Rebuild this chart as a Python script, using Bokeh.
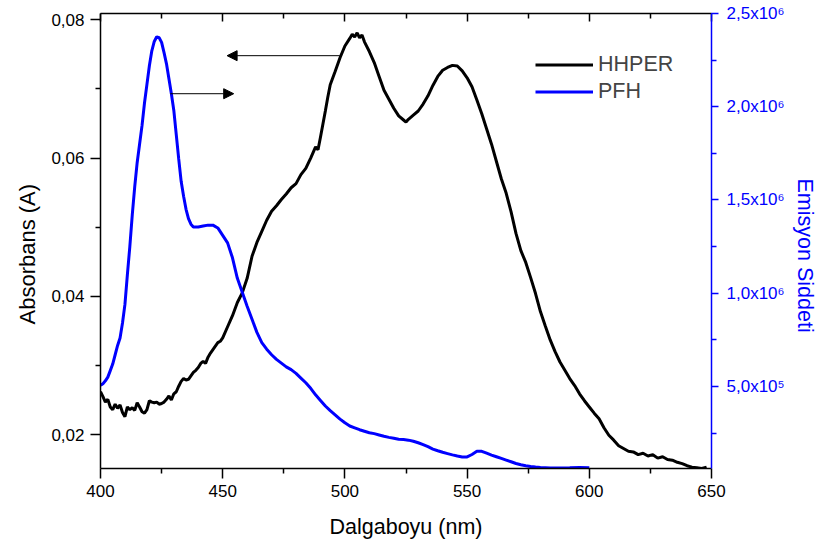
from bokeh.plotting import figure
from bokeh.models import (LinearAxis, Range1d, FixedTicker, CustomJSTickFormatter,
                          Legend, LegendItem, Arrow, NormalHead, ColumnDataSource, Title)
from bokeh.embed import file_html
from bokeh.resources import INLINE

# ---------------- data ----------------
hhper_nm = [400, 401, 402, 403, 404, 405, 406, 407, 408, 409, 410, 411, 412, 413, 414, 415,
            416, 417, 418, 419, 420, 421, 422, 423, 424, 425, 426, 427, 428, 429, 430, 431,
            432, 433, 434, 435, 436, 437, 438, 439, 440, 441, 442, 443, 444, 445, 446, 447,
            448, 449, 450, 452, 454, 456, 458, 460, 462, 464, 466, 468, 470, 472, 474, 476,
            478, 480, 482, 484, 486, 488, 489, 490, 492, 493, 494, 496, 498, 500, 502, 503,
            504, 505, 506, 507, 508, 510, 512, 514, 516, 518, 520, 522, 524, 525, 526, 528,
            530, 532, 534, 536, 538, 540, 542, 544, 546, 548, 550, 552, 554, 556, 558, 560,
            562, 564, 566, 568, 570, 572, 574, 576, 578, 580, 582, 584, 586, 588, 590, 592,
            594, 596, 598, 600, 602, 604, 606, 608, 610, 612, 614, 616, 618, 620, 622, 624,
            626, 628, 630, 632, 634, 636, 638, 640, 642, 644, 646, 648]
hhper_abs = [0.0262, 0.0255, 0.0247, 0.0251, 0.0240, 0.0236, 0.0244, 0.0238, 0.0243, 0.0232,
             0.0226, 0.0240, 0.0236, 0.0239, 0.0235, 0.0246, 0.0240, 0.0233, 0.0231, 0.0236,
             0.0249, 0.0247, 0.0246, 0.0247, 0.0244, 0.0245, 0.0247, 0.0251, 0.0256, 0.0250,
             0.0259, 0.0262, 0.0270, 0.0277, 0.0281, 0.0279, 0.0280, 0.0285, 0.0290, 0.0293,
             0.0297, 0.0303, 0.0306, 0.0303, 0.0312, 0.0318, 0.0323, 0.0328, 0.0333, 0.0335,
             0.0340, 0.0356, 0.0372, 0.0391, 0.0405, 0.0426, 0.0458, 0.0478, 0.0494, 0.0510,
             0.0523, 0.0531, 0.0540, 0.0548, 0.0557, 0.0563, 0.0576, 0.0585, 0.0600, 0.0616,
             0.0612, 0.0630, 0.0668, 0.0688, 0.0706, 0.0725, 0.0745, 0.0762, 0.0773, 0.0779,
             0.0775, 0.0781, 0.0774, 0.0778, 0.0768, 0.0754, 0.0738, 0.0718, 0.0698, 0.0685,
             0.0672, 0.0661, 0.0655, 0.0652, 0.0656, 0.0662, 0.0668, 0.0678, 0.0690, 0.0705,
             0.0718, 0.0727, 0.0731, 0.0734, 0.0733, 0.0726, 0.0716, 0.0703, 0.0684, 0.0664,
             0.0642, 0.0620, 0.0595, 0.0570, 0.0549, 0.0522, 0.0491, 0.0466, 0.0449, 0.0427,
             0.0404, 0.0378, 0.0357, 0.0337, 0.0320, 0.0305, 0.0293, 0.0281, 0.0271, 0.0259,
             0.0249, 0.0240, 0.0231, 0.0223, 0.0210, 0.0199, 0.0192, 0.0184, 0.0180, 0.0176,
             0.0175, 0.0171, 0.0173, 0.0169, 0.0171, 0.0166, 0.0168, 0.0164, 0.0163, 0.0160,
             0.0158, 0.0155, 0.0153, 0.0152, 0.0151, 0.0153]

pfh_nm = [400, 401, 402, 403, 404, 405, 406, 407, 408, 409, 410, 411, 412, 413, 414, 415,
          416, 417, 418, 419, 420, 421, 422, 423, 424, 425, 426, 427, 428, 429, 430, 431,
          432, 433, 434, 435, 436, 437, 438, 439, 440, 442, 444, 446, 448, 450, 452, 454,
          456, 458, 460, 462, 464, 466, 468, 470, 472, 474, 476, 478, 480, 482, 484, 486,
          488, 490, 492, 494, 496, 498, 500, 502, 504, 506, 508, 510, 512, 514, 516, 518,
          520, 522, 524, 526, 528, 530, 532, 534, 536, 538, 540, 542, 544, 546, 548, 550,
          552, 554, 556, 558, 560, 562, 564, 566, 568, 570, 572, 574, 576, 578, 580, 584,
          588, 592, 596, 600]
pfh_em = [5.06e5, 5.15e5, 5.30e5, 5.50e5, 5.85e5, 6.20e5, 6.70e5, 7.20e5, 7.60e5, 8.40e5,
          9.40e5, 1.10e6, 1.25e6, 1.42e6, 1.57e6, 1.70e6, 1.80e6, 1.90e6, 2.02e6, 2.12e6,
          2.22e6, 2.30e6, 2.35e6, 2.375e6, 2.37e6, 2.345e6, 2.29e6, 2.23e6, 2.15e6, 2.07e6,
          1.98e6, 1.85e6, 1.72e6, 1.60e6, 1.52e6, 1.45e6, 1.40e6, 1.37e6, 1.355e6, 1.355e6,
          1.355e6, 1.36e6, 1.365e6, 1.365e6, 1.35e6, 1.31e6, 1.27e6, 1.19e6, 1.08e6, 1.005e6,
          9.30e5, 8.60e5, 7.90e5, 7.35e5, 7.00e5, 6.70e5, 6.45e5, 6.25e5, 6.05e5, 5.90e5,
          5.70e5, 5.45e5, 5.20e5, 4.90e5, 4.55e5, 4.25e5, 3.95e5, 3.70e5, 3.48e5, 3.25e5,
          3.05e5, 2.88e5, 2.78e5, 2.68e5, 2.60e5, 2.52e5, 2.47e5, 2.40e5, 2.33e5, 2.27e5,
          2.22e5, 2.17e5, 2.15e5, 2.12e5, 2.06e5, 1.98e5, 1.88e5, 1.77e5, 1.64e5, 1.55e5,
          1.47e5, 1.40e5, 1.33e5, 1.27e5, 1.22e5, 1.22e5, 1.35e5, 1.52e5, 1.52e5, 1.42e5,
          1.32e5, 1.23e5, 1.14e5, 1.05e5, 9.6e4, 8.7e4, 8.0e4, 7.5e4, 7.1e4, 6.8e4,
          6.6e4, 6.3e4, 6.3e4, 6.4e4, 6.6e4, 6.4e4]

x_ticks = [400, 450, 500, 550, 600, 650]
x_minor = [425, 475, 525, 575, 625]
left_ticks = [0.02, 0.04, 0.06, 0.08]
left_minor = [0.03, 0.05, 0.07]
right_ticks = [5e5, 1e6, 1.5e6, 2e6, 2.5e6]
right_minor = [2.5e5, 7.5e5, 1.25e6, 1.75e6, 2.25e6]

FONT = "Liberation Sans"
BLUE = "#0000ff"
TITLE_SIZE = "21.5px"

p = figure(width=825, height=549, x_range=Range1d(400, 650), y_range=Range1d(0.0151, 0.0809),
           output_backend="svg", toolbar_location=None,
           min_border_left=100, min_border_right=114, min_border_top=13, min_border_bottom=81)
p.extra_y_ranges = {"em": Range1d(6.0e4, 2.5e6)}
p.outline_line_color = None
p.xgrid.visible = False
p.ygrid.visible = False
p.background_fill_color = "white"
p.border_fill_color = "white"

comma2 = CustomJSTickFormatter(code="return tick.toFixed(2).replace('.', ',');")
intfmt = CustomJSTickFormatter(code="return tick.toFixed(0);")
blank = CustomJSTickFormatter(code="return '';")
sci = CustomJSTickFormatter(code="""
const sup = {'0':'\u2070','1':'\u00b9','2':'\u00b2','3':'\u00b3','4':'\u2074','5':'\u2075','6':'\u2076','7':'\u2077','8':'\u2078','9':'\u2079'};
const e = Math.floor(Math.log10(tick) + 1e-9);
const m = tick / Math.pow(10, e);
return m.toFixed(1).replace('.', ',') + 'x10' + sup[String(e)];
""")

def style_axis(ax, color="black"):
    ax.axis_line_color = color
    ax.axis_line_width = 1.5
    ax.major_tick_line_color = color
    ax.minor_tick_line_color = color
    ax.major_tick_line_width = 1.5
    ax.minor_tick_line_width = 1.5
    ax.major_label_text_font = FONT
    ax.major_label_text_font_size = "17px"
    ax.major_label_text_color = color
    ax.axis_label_text_font = FONT
    ax.axis_label_text_font_size = TITLE_SIZE
    ax.axis_label_text_font_style = "normal"
    ax.axis_label_text_color = color

# bottom axis
xa = p.xaxis[0]
xa.ticker = FixedTicker(ticks=x_ticks, minor_ticks=x_minor)
xa.formatter = intfmt
style_axis(xa)
xa.major_tick_in = 0
xa.major_tick_out = 10
xa.minor_tick_in = 0
xa.minor_tick_out = 5
xa.major_label_standoff = 6
xa.axis_label = "Dalgaboyu (nm)"
xa.axis_label_standoff = 15

# left axis
ya = p.yaxis[0]
ya.ticker = FixedTicker(ticks=left_ticks, minor_ticks=left_minor)
ya.formatter = comma2
style_axis(ya)
ya.major_tick_in = 0
ya.major_tick_out = 10
ya.minor_tick_in = 0
ya.minor_tick_out = 5
ya.major_label_standoff = 6

# top axis (ticks only)
ta = LinearAxis(ticker=FixedTicker(ticks=x_ticks, minor_ticks=x_minor), formatter=blank)
style_axis(ta)
ta.major_tick_in = 8
ta.major_tick_out = 0
ta.minor_tick_in = 5
ta.minor_tick_out = 0
ta.major_label_standoff = 0
p.add_layout(ta, "above")

# right axis (emission)
ra = LinearAxis(y_range_name="em", ticker=FixedTicker(ticks=right_ticks, minor_ticks=right_minor),
                formatter=sci)
style_axis(ra, BLUE)
ra.major_tick_in = 0
ra.major_tick_out = 7
ra.minor_tick_in = 0
ra.minor_tick_out = 5
ra.major_label_standoff = 8
p.add_layout(ra, "right")

# vertical axis titles as side titles (offset along the side)
lt = Title(text="Absorbans (A)", align="left", offset=144, text_font=FONT,
           text_font_size="22px", text_font_style="normal", text_color="black")
try:
    lt.standoff = 17
except Exception:
    pass
p.add_layout(lt, "left")
rt = Title(text="Emisyon Siddeti", align="left", offset=165, text_font=FONT,
           text_font_size=TITLE_SIZE, text_font_style="normal", text_color=BLUE)
p.add_layout(rt, "right")

src_h = ColumnDataSource(dict(x=hhper_nm, y=hhper_abs))
src_p = ColumnDataSource(dict(x=pfh_nm, y=pfh_em))
r1 = p.line("x", "y", source=src_h, line_color="black", line_width=3)
r2 = p.line("x", "y", source=src_p, line_color=BLUE, line_width=3, y_range_name="em")

# arrows pointing to the relevant axes
p.add_layout(Arrow(end=NormalHead(size=10, fill_color="black", line_color="black", line_width=1),
                   x_start=497.9, y_start=0.0748, x_end=451.8, y_end=0.0748,
                   line_color="black", line_width=1))
p.add_layout(Arrow(end=NormalHead(size=10, fill_color="black", line_color="black", line_width=1),
                   x_start=428.6, y_start=0.0693, x_end=454.5, y_end=0.0693,
                   line_color="black", line_width=1))

legend = Legend(items=[LegendItem(label="HHPER", renderers=[r1]),
                       LegendItem(label="PFH", renderers=[r2])],
                location=(435, 363), border_line_color=None, background_fill_alpha=0,
                label_text_font=FONT, label_text_font_size=TITLE_SIZE,
                glyph_width=58, glyph_height=27, label_height=27, spacing=0,
                padding=0, margin=0, label_standoff=5)
p.add_layout(legend)

open("out.html", "w").write(file_html(p, INLINE))
